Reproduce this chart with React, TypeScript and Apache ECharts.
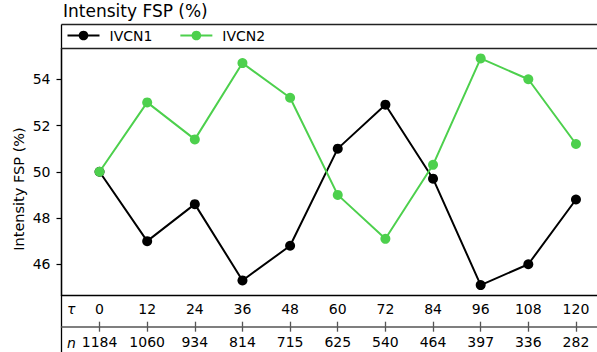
import React, { useEffect, useRef } from 'react';
import * as echarts from 'echarts';

const taus = [0, 12, 24, 36, 48, 60, 72, 84, 96, 108, 120];
const nValues = [1184, 1060, 934, 814, 715, 625, 540, 464, 397, 336, 282];
const ivcn1 = [50.0, 47.0, 48.6, 45.3, 46.8, 51.0, 52.9, 49.7, 45.1, 46.0, 48.8];
const ivcn2 = [50.0, 53.0, 51.4, 54.7, 53.2, 49.0, 47.1, 50.3, 54.9, 54.0, 51.2];
const yTicks = [46, 48, 50, 52, 54];
const seriesNames = ['IVCN1', 'IVCN2'];
const seriesColors = ['#000000', '#4dd04d'];
const titleText = 'Intensity FSP (%)';
const yName = 'Intensity FSP (%)';

export default function App() {
  const ref = useRef<HTMLDivElement>(null);
  useEffect(() => {
    document.body.style.margin = '0';
    const chart = echarts.init(ref.current!, null, { renderer: 'svg' });
    const font = 'DejaVu Sans';
    const xMin = -9.58;
    const xMax = 129.58;
    const nLabel = (v: number) => {
      const i = taus.indexOf(Math.round(v));
      return i >= 0 ? String(nValues[i]) : '';
    };
    const baseX = {
      type: 'value',
      min: xMin,
      max: xMax,
      position: 'bottom',
      splitLine: { show: false },
    };
    chart.setOption({
      animation: false,
      grid: { left: 61.5, right: 0, top: 48.5, bottom: 56.3 },
      legend: {
        data: seriesNames,
        left: 66.5,
        top: 28.5,
        padding: 0,
        itemWidth: 32,
        itemHeight: 12,
        itemGap: 27,
        textStyle: { fontSize: 14, fontFamily: font, color: '#000', padding: [0, 0, 0, 5] },
      },
      xAxis: [
        {
          ...baseX,
          axisLine: { onZero: false, lineStyle: { color: '#000', width: 1.3 } },
          axisTick: { show: false },
          axisLabel: { customValues: taus, fontSize: 14, fontFamily: font, color: '#000', margin: 6 },
        },
        {
          ...baseX,
          offset: 31,
          axisLine: { onZero: false, lineStyle: { color: '#555', width: 1.6 } },
          axisTick: { show: true, customValues: taus, length: 5, lineStyle: { color: '#555', width: 1.3 } },
          axisLabel: { customValues: taus, formatter: nLabel, fontSize: 14, fontFamily: font, color: '#000', margin: 8 },
        },
        {
          ...baseX,
          offset: 31,
          axisLine: { show: false, onZero: false },
          axisTick: { show: true, inside: true, customValues: taus, length: 5, lineStyle: { color: '#555', width: 1.3 } },
          axisLabel: { show: false },
        },
        {
          ...baseX,
          position: 'top',
          axisLine: { onZero: false, lineStyle: { color: '#222', width: 1.3 } },
          axisTick: { show: false },
          axisLabel: { show: false },
        },
      ],
      yAxis: {
        type: 'value',
        min: 44.64,
        max: 55.33,
        splitLine: { show: false },
        axisLine: { show: true, onZero: false, lineStyle: { color: '#000', width: 1.3 } },
        axisTick: { show: true, customValues: yTicks, length: 5, lineStyle: { color: '#000', width: 1.2 } },
        axisLabel: { customValues: yTicks, fontSize: 14, fontFamily: font, color: '#000', margin: 11 },
      },
      series: [ivcn1, ivcn2].map((vals, k) => ({
        name: seriesNames[k],
        type: 'line',
        xAxisIndex: 0,
        data: taus.map((t, i) => [t, vals[i]]),
        symbol: 'circle',
        symbolSize: 10,
        color: seriesColors[k],
        lineStyle: { color: seriesColors[k], width: 2 },
        itemStyle: { color: seriesColors[k] },
        z: 2 + k,
      })),
      graphic: [
        {
          type: 'text',
          x: 63,
          y: 11,
          style: { text: titleText, font: `17px "${font}"`, fill: '#000', verticalAlign: 'middle' },
        },
        {
          type: 'line',
          shape: { x1: 61.5, y1: 24.5, x2: 614, y2: 24.5 },
          style: { stroke: '#222', lineWidth: 1.3 },
        },
        {
          type: 'line',
          shape: { x1: 61.5, y1: 24.5, x2: 61.5, y2: 352 },
          style: { stroke: '#000', lineWidth: 1.3 },
        },
        {
          type: 'text',
          x: 67,
          y: 308.5,
          style: { text: 'τ', font: `italic 14px "${font}"`, fill: '#000', verticalAlign: 'middle' },
        },
        {
          type: 'text',
          x: 67,
          y: 342.5,
          style: { text: 'n', font: `italic 14px "${font}"`, fill: '#000', verticalAlign: 'middle' },
        },
        {
          type: 'text',
          x: 19,
          y: 189,
          rotation: Math.PI / 2,
          style: { text: yName, font: `14.5px "${font}"`, fill: '#000', align: 'center', verticalAlign: 'middle' },
        },
      ],
    });
    return () => chart.dispose();
  }, []);
  return (
    <div style={{ width: 597, height: 352, overflow: 'hidden' }}>
      <div ref={ref} style={{ width: 614, height: 352 }} />
    </div>
  );
}
